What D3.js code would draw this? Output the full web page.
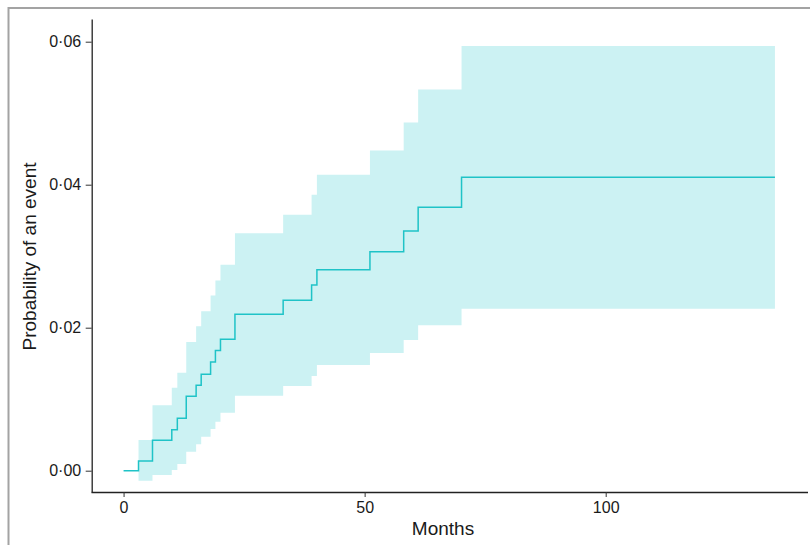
<!DOCTYPE html>
<html>
<head>
<meta charset="utf-8">
<script src="https://cdn.jsdelivr.net/npm/d3@7"></script>
<style>
  html, body { margin: 0; padding: 0; background: #fff; }
  svg { display: block; font-family: "Liberation Sans", Arial, sans-serif; }
</style>
</head>
<body>
<svg id="chart" width="810" height="545"></svg>
<script>
// Step times (months) where the cumulative incidence changes
const months   = [0, 3.1, 6.0, 10.0, 11.15, 13.0, 15.05, 16.1, 18.05, 19.05, 20.1, 23.1, 33.1, 39.0, 40.1, 51.1, 58.1, 61.1, 70.1];
const endMonth = 135.1;
// Estimated probability of an event
const estimate = [0, 0.00136, 0.00425, 0.00573, 0.00733, 0.0104, 0.01194, 0.0135, 0.0152, 0.0168, 0.0184, 0.02187, 0.02383, 0.02597, 0.02811, 0.03063, 0.03352, 0.03684, 0.04103];
// Confidence band
const upper    = [0, 0.00429, 0.00915, 0.01161, 0.01371, 0.0180, 0.0202, 0.0223, 0.0245, 0.0266, 0.0288, 0.0332, 0.0358, 0.0386, 0.0414, 0.0448, 0.0487, 0.0533, 0.0594];
const lower    = [0, -0.0014, -0.0006, 0.0001, 0.00094, 0.00266, 0.00369, 0.00476, 0.00583, 0.00685, 0.00811, 0.0105, 0.01185, 0.01324, 0.01478, 0.01646, 0.01828, 0.02034, 0.02264];
// Axis ticks
const xTicks = [0, 50, 100];
const yTicks = [0, 0.02, 0.04, 0.06];
const xTitle = "Months";
const yTitle = "Probability of an event";

const svg = d3.select("#chart");

// Build step records (last point repeated at the end of follow-up)
const data = months.map((t, i) => ({ t, est: estimate[i], lo: lower[i], hi: upper[i] }));
const last = data[data.length - 1];
data.push({ t: endMonth, est: last.est, lo: last.lo, hi: last.hi });

const xExp = (endMonth - 0) * 0.05;
const x = d3.scaleLinear().domain([0 - xExp, endMonth + xExp]).range([91, 807.5]);
const y0 = d3.scaleLinear().domain([0, 0.06]).range([470.7, 41.7]);
const y = d3.scaleLinear().domain([y0.invert(492), y0.invert(19)]).range([492, 19]);

const fillCol = "rgb(204,242,243)";
const lineCol = "#1fc3c7";

// Band (start from first event so zero-width region is skipped)
const band = data.slice(1);
svg.append("path")
  .datum(band)
  .attr("fill", fillCol)
  .attr("stroke", "none")
  .attr("d", d3.area().curve(d3.curveStepAfter)
    .x(d => x(d.t)).y0(d => y(d.lo)).y1(d => y(d.hi)));

// Estimate line
svg.append("path")
  .datum(data)
  .attr("fill", "none")
  .attr("stroke", lineCol)
  .attr("stroke-width", 1.5)
  .attr("d", d3.line().curve(d3.curveStepAfter).x(d => x(d.t)).y(d => y(d.est)));

const fmt = v => d3.format(".2f")(v).replace(".", "\u00B7");

// Axes
const gx = svg.append("g").attr("transform", "translate(0,492)")
  .call(d3.axisBottom(x).tickValues(xTicks).tickSize(5).tickPadding(5).tickSizeOuter(0));
const gy = svg.append("g").attr("transform", "translate(91.7,0)")
  .call(d3.axisLeft(y).tickValues(yTicks).tickFormat(fmt).tickSize(6).tickPadding(4.5).tickSizeOuter(0));

[gx, gy].forEach(g => {
  g.select(".domain").attr("stroke", "#222").attr("stroke-width", 1.3);
  g.selectAll(".tick line").attr("stroke", "#333").attr("stroke-width", 1);
  g.selectAll(".tick text").attr("fill", "#1a1a1a").style("font-size", "16px")
    .style("font-family", "'Liberation Sans', Arial, sans-serif");
});

// Titles
svg.append("text")
  .attr("x", 443).attr("y", 535)
  .attr("text-anchor", "middle")
  .attr("fill", "#1a1a1a")
  .style("font-size", "19px")
  .text(xTitle);

svg.append("text")
  .attr("transform", "translate(36,256.5) rotate(-90)")
  .attr("text-anchor", "middle")
  .attr("fill", "#1a1a1a")
  .style("font-size", "19px")
  .text(yTitle);

// Outer frame (left and top edges)
svg.append("path")
  .attr("d", "M8.5,545 V8 H810")
  .attr("fill", "none")
  .attr("stroke", "#a3a3a3")
  .attr("stroke-width", 2);
</script>
</body>
</html>
